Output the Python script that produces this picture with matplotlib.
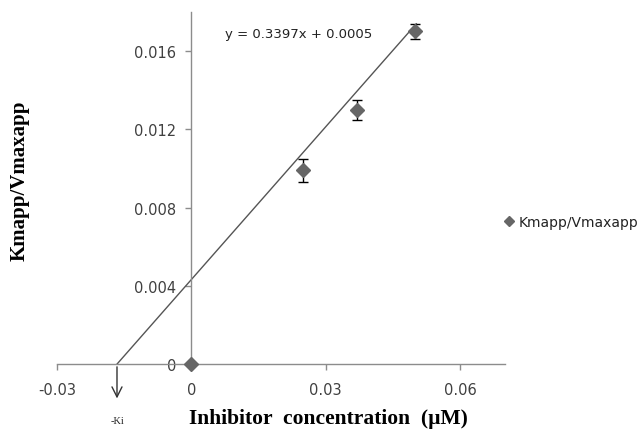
import matplotlib
matplotlib.use('Agg')
import matplotlib.pyplot as plt
from matplotlib.lines import Line2D
import numpy as np

# Données
inhibitor = [0.0, 0.025, 0.037, 0.05]
km_vm = [0.0, 0.0099, 0.0130, 0.0170]
err = [0.0, 0.0006, 0.0005, 0.0004]

# Droite tracée (intercepte l'axe x en -Ki)
line_x = [-0.0166, 0.0502]
slope, intercept = 0.2604, 0.00432
equation = "y = 0.3397x + 0.0005"

x_ticks = [-0.03, 0, 0.03, 0.06]
x_ticklabels = ["-0.03", "0", "0.03", "0.06"]
y_ticks = [0, 0.004, 0.008, 0.012, 0.016]
y_ticklabels = ["0", "0.004", "0.008", "0.012", "0.016"]

grey = '#8c8c8c'
text_grey = '#404040'
marker_col = '#666666'

fig = plt.figure(figsize=(6.4, 4.31), dpi=100)
ax = fig.add_axes([0.089, 0.153, 0.700, 0.817])

# droite de tendance
lx = np.array(line_x)
ax.plot(lx, slope * lx + intercept, color='#555555', lw=1.0, zorder=2)

# points avec barres d'erreur
ax.errorbar(inhibitor, km_vm, yerr=err, fmt='D', color=marker_col, ms=7,
            ecolor='black', elinewidth=1.0, capsize=3.5, capthick=1.0,
            zorder=3, clip_on=False)

ax.set_xlim(-0.03, 0.07)
ax.set_ylim(0, 0.018)

ax.spines['left'].set_position(('data', 0))
ax.spines['bottom'].set_position(('data', 0))
ax.spines['right'].set_visible(False)
ax.spines['top'].set_visible(False)
for s in ['left', 'bottom']:
    ax.spines[s].set_color(grey)
    ax.spines[s].set_linewidth(1.0)

ax.set_xticks(x_ticks)
ax.set_xticklabels(x_ticklabels)
ax.set_yticks(y_ticks)
ax.set_yticklabels(y_ticklabels)
ax.tick_params(axis='both', direction='out', length=4, color=grey, width=1.0,
               labelsize=10.5, labelcolor=text_grey, pad=9)
ax.tick_params(axis='y', pad=7)

# flèche -Ki
ax.annotate('', xy=(line_x[0], -0.0019), xytext=(line_x[0], 0),
            arrowprops=dict(arrowstyle='->', color='#333333', lw=1.0,
                            mutation_scale=18), annotation_clip=False)
ax.text(line_x[0], -0.0029, '-Ki', fontsize=7.5, family='Liberation Serif',
        ha='center', va='center', color='#222222', clip_on=False)

# équation
ax.text(0.0076, 0.0169, equation, fontsize=9.5, color='#222222',
        ha='left', va='center')

ax.set_xlabel('Inhibitor  concentration  (µM)', family='Liberation Serif',
              fontweight='bold', fontsize=15.5)
ax.xaxis.set_label_coords(0.606, -0.125)
fig.text(0.031, 0.58, 'Kmapp/Vmaxapp', rotation=90, family='Liberation Serif',
         fontweight='bold', fontsize=15, ha='center', va='center')

# légende : seulement le losange
handle = Line2D([], [], marker='D', ls='none', color=marker_col, ms=5.5)
fig.legend([handle], ['Kmapp/Vmaxapp'], loc='center left',
           bbox_to_anchor=(0.765, 0.482), frameon=False, fontsize=10,
           handletextpad=0.2, handlelength=1.0, labelcolor='#222222')

fig.savefig('out.png', dpi=100)
